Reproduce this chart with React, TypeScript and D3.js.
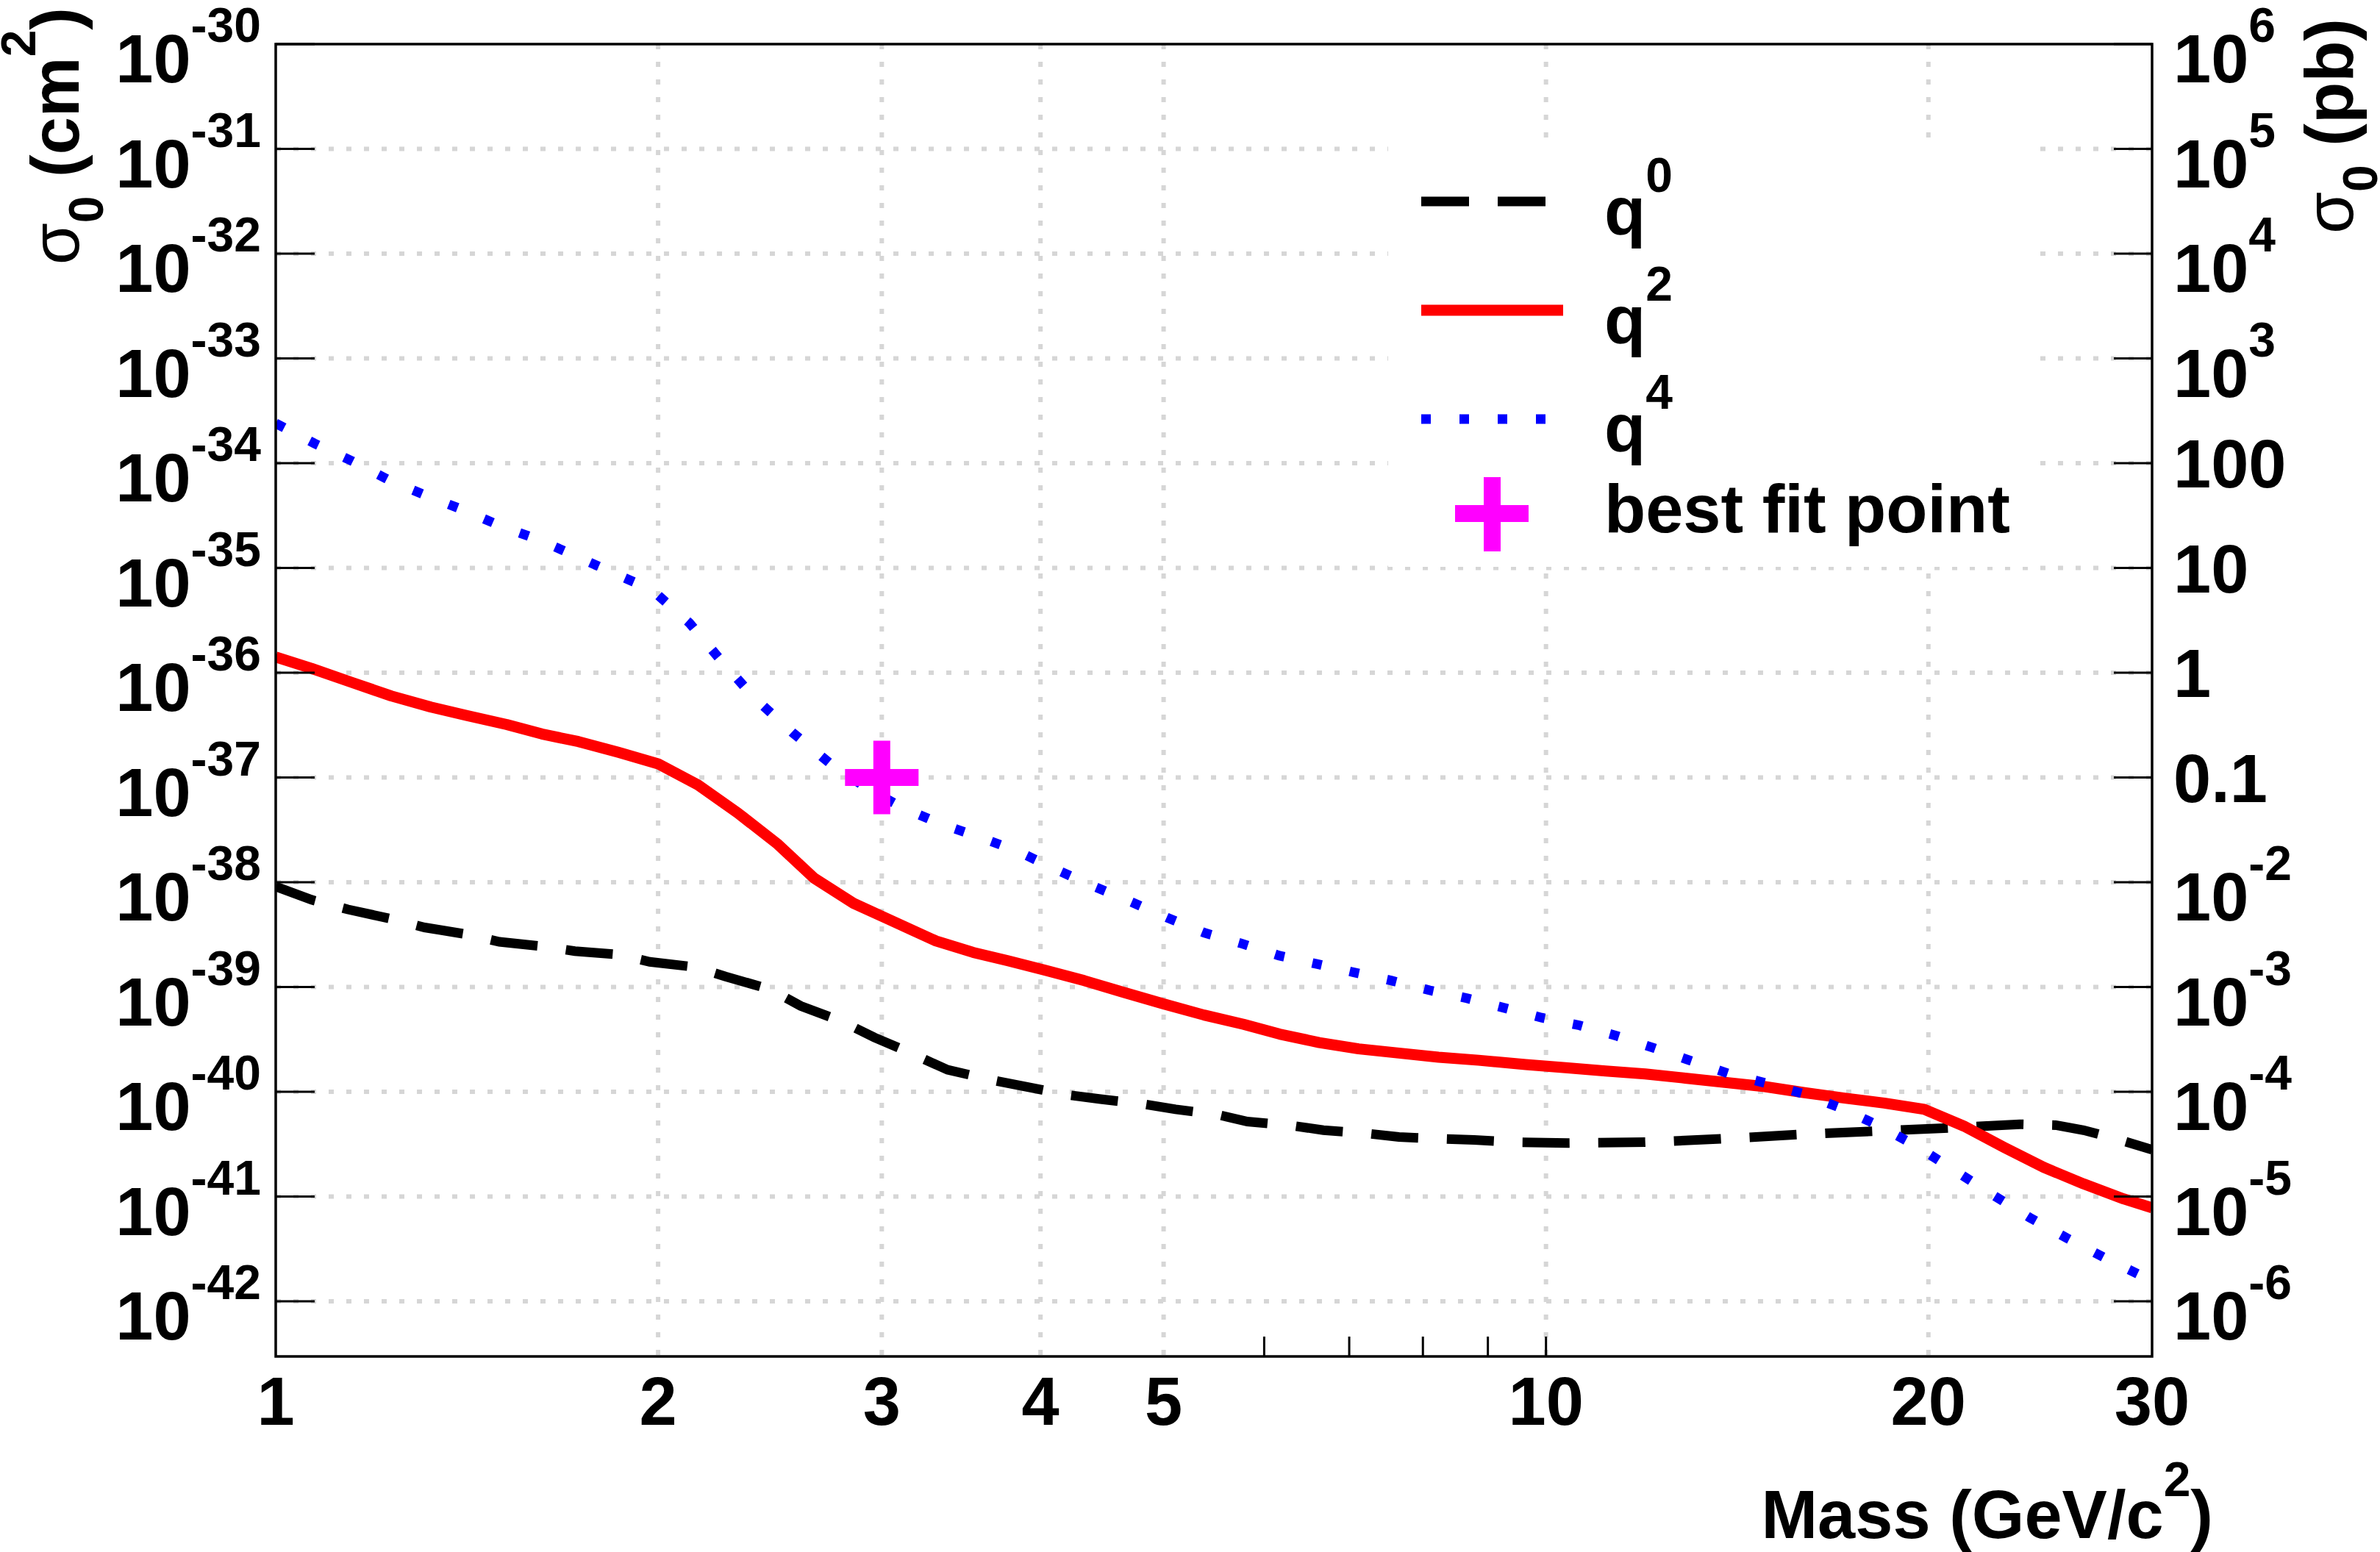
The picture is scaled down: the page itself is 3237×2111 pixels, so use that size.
import * as d3 from 'd3'

const W = 3237
const H = 2111

// upper limits, sigma_0 in cm^2 versus mass in GeV/c^2
const q0Limit: [number, number][] = [
  [1.0, 9.1e-39], [1.067, 6.8e-39], [1.14, 5.5e-39], [1.23, 4.5e-39], [1.31, 3.7e-39],
  [1.41, 3.2e-39], [1.5, 2.7e-39], [1.62, 2.45e-39], [1.72, 2.2e-39], [1.86, 2.04e-39],
  [1.97, 1.74e-39], [2.14, 1.55e-39], [2.26, 1.26e-39], [2.45, 9.5e-40], [2.59, 6.6e-40],
  [2.79, 4.7e-40], [2.96, 3.3e-40], [3.1, 2.6e-40], [3.38, 1.62e-40], [3.67, 1.29e-40],
  [3.89, 1.12e-40], [4.21, 9.3e-41], [4.46, 8.5e-41], [4.83, 7.6e-41], [5.11, 6.8e-41],
  [5.53, 6.0e-41], [5.82, 5.2e-41], [6.35, 4.7e-41], [6.68, 4.3e-41], [7.23, 4.0e-41],
  [7.66, 3.7e-41], [8.29, 3.55e-41], [8.78, 3.47e-41], [9.51, 3.3e-41], [10.4, 3.24e-41],
  [11.97, 3.3e-41], [13.73, 3.55e-41], [15.75, 3.9e-41], [18.07, 4.2e-41], [20.58, 4.5e-41],
  [23.6, 4.9e-41], [25.2, 4.8e-41], [26.5, 4.3e-41], [28.3, 3.47e-41], [30, 2.8e-41],
]

const q2Limit: [number, number][] = [
  [1.0, 1.41e-36], [1.067, 1.1e-36], [1.147, 8.1e-37], [1.233, 6.0e-37], [1.325, 4.7e-37],
  [1.414, 3.9e-37], [1.52, 3.2e-37], [1.62, 2.6e-37], [1.731, 2.2e-37], [1.861, 1.74e-37],
  [2.0, 1.35e-37], [2.15, 8.5e-38], [2.31, 4.6e-38], [2.485, 2.3e-38], [2.652, 1.1e-38],
  [2.85, 6.3e-39], [3.04, 4.4e-39], [3.31, 2.75e-39], [3.54, 2.14e-39], [3.77, 1.78e-39],
  [4.03, 1.45e-39], [4.33, 1.15e-39], [4.65, 8.9e-40], [5.0, 6.9e-40], [5.38, 5.4e-40],
  [5.78, 4.4e-40], [6.17, 3.55e-40], [6.63, 2.95e-40], [7.12, 2.57e-40], [7.66, 2.34e-40],
  [8.23, 2.14e-40], [8.85, 2.0e-40], [9.64, 1.82e-40], [10.36, 1.7e-40], [11.14, 1.58e-40],
  [11.97, 1.48e-40], [12.87, 1.35e-40], [13.83, 1.23e-40], [14.87, 1.12e-40], [15.98, 9.8e-41],
  [17.18, 8.7e-41], [18.46, 7.8e-41], [19.85, 6.8e-41], [21.33, 4.7e-41], [22.94, 2.95e-41],
  [24.65, 1.9e-41], [26.5, 1.32e-41], [28.49, 9.5e-42], [30, 7.8e-42],
]

const q4Limit: [number, number][] = [
  [1.0, 2.4e-34], [1.072, 1.55e-34], [1.148, 1.05e-34], [1.228, 6.9e-35], [1.314, 4.9e-35],
  [1.407, 3.55e-35], [1.505, 2.5e-35], [1.611, 1.86e-35], [1.725, 1.29e-35], [1.846, 8.9e-36],
  [1.977, 6.2e-36], [2.116, 3.0e-36], [2.24, 1.32e-36], [2.38, 5.8e-37], [2.55, 2.7e-37],
  [2.728, 1.38e-37], [2.92, 7.9e-38], [3.12, 5.1e-38], [3.34, 3.6e-38], [3.58, 2.7e-38],
  [3.83, 2.0e-38], [4.1, 1.35e-38], [4.39, 9.3e-39], [4.7, 6.6e-39], [5.03, 4.6e-39],
  [5.38, 3.3e-39], [5.76, 2.6e-39], [6.16, 2.0e-39], [6.6, 1.66e-39], [7.06, 1.38e-39],
  [7.56, 1.15e-39], [8.1, 9.3e-40], [8.67, 7.8e-40], [9.28, 6.3e-40], [9.92, 5.1e-40],
  [10.63, 4.3e-40], [11.38, 3.4e-40], [12.18, 2.6e-40], [13.04, 1.95e-40], [13.95, 1.48e-40],
  [14.93, 1.2e-40], [15.98, 9.5e-41], [17.11, 6.9e-41], [18.31, 4.7e-41], [19.6, 3.0e-41],
  [20.97, 1.78e-41], [22.44, 1.05e-41], [24.03, 6.3e-42], [25.72, 4.0e-42], [27.53, 2.6e-42],
  [29.47, 1.74e-42], [30, 1.6e-42],
]

const bestFit: [number, number] = [3, 1e-37]

const xTickLabels = [1, 2, 3, 4, 5, 10, 20, 30]
const xGridValues = [2, 3, 4, 5, 10, 20]
const xSmallTicks = [6, 7, 8, 9, 10]
const leftExponents = [-30, -31, -32, -33, -34, -35, -36, -37, -38, -39, -40, -41, -42]
// right axis in pb (1 pb = 1e-36 cm^2)
const rightTicks: { exp: number; base: string; sup?: string }[] = [
  { exp: 6, base: '10', sup: '6' },
  { exp: 5, base: '10', sup: '5' },
  { exp: 4, base: '10', sup: '4' },
  { exp: 3, base: '10', sup: '3' },
  { exp: 2, base: '100' },
  { exp: 1, base: '10' },
  { exp: 0, base: '1' },
  { exp: -1, base: '0.1' },
  { exp: -2, base: '10', sup: '-2' },
  { exp: -3, base: '10', sup: '-3' },
  { exp: -4, base: '10', sup: '-4' },
  { exp: -5, base: '10', sup: '-5' },
  { exp: -6, base: '10', sup: '-6' },
]

const legendItems = [
  { key: 'q0', sup: '0', color: '#000000', width: 13, dash: '65 39' },
  { key: 'q2', sup: '2', color: '#ff0000', width: 15, dash: undefined },
  { key: 'q4', sup: '4', color: '#0000ff', width: 13, dash: '13 39' },
]

const FONT = "'Liberation Sans', Arial, Helvetica, sans-serif"

export default function App() {
  const left = 375
  const right = 2927
  const top = 60
  const bottom = 1845

  const x = d3.scaleLog().domain([1, 30]).range([left, right])
  const y = d3
    .scaleLog()
    .domain([Math.pow(10, -30 - (bottom - top) / 142.5), 1e-30])
    .range([bottom, top])

  const line = d3
    .line<[number, number]>()
    .x(d => x(d[0]))
    .y(d => y(d[1]))

  const bx = x(bestFit[0])
  const by = y(bestFit[1])

  const legendRows = [274, 422, 570]
  const legendText = [319, 467, 614]

  return (
    <svg
      width={W}
      height={H}
      style={{ position: 'absolute', left: 0, top: 0, background: '#fff' }}
      fontFamily={FONT}
      fontWeight="bold"
    >
      <rect x={0} y={0} width={W} height={H} fill="#fff" />
      <defs>
        <clipPath id="plot">
          <rect x={left} y={top} width={right - left} height={bottom - top} />
        </clipPath>
      </defs>

      {/* grid */}
      <g stroke="#d6d6d6" strokeWidth={6} strokeDasharray="7 17">
        {leftExponents.slice(1).map(e => (
          <line key={e} x1={left} x2={right} y1={y(Math.pow(10, e))} y2={y(Math.pow(10, e))} />
        ))}
        {xGridValues.map(v => (
          <line key={v} x1={x(v)} x2={x(v)} y1={top} y2={bottom} />
        ))}
      </g>

      {/* legend box */}
      <rect x={1888} y={190} width={885} height={581} fill="#fff" />

      {/* curves */}
      <g clipPath="url(#plot)" fill="none">
        <path d={line(q0Limit)!} stroke="#000" strokeWidth={13} strokeDasharray="64 39" strokeDashoffset={7} />
        <path d={line(q2Limit)!} stroke="#ff0000" strokeWidth={15} strokeLinejoin="round" />
        <path d={line(q4Limit)!} stroke="#0000ff" strokeWidth={13} strokeDasharray="13 39" />
      </g>

      {/* best fit point */}
      <g fill="#ff00ff">
        <rect x={bx - 50} y={by - 11.5} width={100} height={23} />
        <rect x={bx - 11.5} y={by - 50} width={23} height={100} />
      </g>

      {/* frame and ticks */}
      <rect x={left} y={top} width={right - left} height={bottom - top} fill="none" stroke="#000" strokeWidth={3.5} />
      <g stroke="#000" strokeWidth={3}>
        {leftExponents.map(e => (
          <line key={e} x1={left} x2={left + 53} y1={y(Math.pow(10, e))} y2={y(Math.pow(10, e))} />
        ))}
        {leftExponents.map(e => (
          <line key={'r' + e} x1={right - 52} x2={right} y1={y(Math.pow(10, e))} y2={y(Math.pow(10, e))} />
        ))}
        {xSmallTicks.map(v => (
          <line key={v} x1={x(v)} x2={x(v)} y1={bottom} y2={bottom - 27} />
        ))}
      </g>

      {/* left tick labels */}
      <g fontSize={92} textAnchor="end">
        {leftExponents.map(e => (
          <text key={e} x={355} y={y(Math.pow(10, e)) + 52}>
            10
            <tspan dy={-55} fontSize={66}>
              {String(e)}
            </tspan>
          </text>
        ))}
      </g>

      {/* right tick labels */}
      <g fontSize={92}>
        {rightTicks.map(t => {
          const ty = y(Math.pow(10, t.exp - 36))
          return t.sup ? (
            <text key={t.exp} x={2956} y={ty + 52}>
              {t.base}
              <tspan dy={-55} fontSize={66}>
                {t.sup}
              </tspan>
            </text>
          ) : (
            <text key={t.exp} x={2956} y={ty + 33}>
              {t.base}
            </text>
          )
        })}
      </g>

      {/* x tick labels */}
      <g fontSize={92} textAnchor="middle">
        {xTickLabels.map(v => (
          <text key={v} x={x(v)} y={1938}>
            {v}
          </text>
        ))}
      </g>

      {/* axis titles */}
      <text x={3010} y={2092} fontSize={92} textAnchor="end">
        Mass (GeV/c
        <tspan dy={-57} fontSize={66}>
          2
        </tspan>
        <tspan dy={57}>)</tspan>
      </text>
      <text transform="translate(107,10) rotate(-90)" fontSize={92} textAnchor="end">
        <tspan fontWeight="normal">σ</tspan>
        <tspan dy={33} fontSize={66}>
          0
        </tspan>
        <tspan dy={-33}> (cm</tspan>
        <tspan dy={-59} fontSize={66}>
          2
        </tspan>
        <tspan dy={59}>)</tspan>
      </text>
      <text transform="translate(3200,25) rotate(-90)" fontSize={92} textAnchor="end">
        <tspan fontWeight="normal">σ</tspan>
        <tspan dy={33} fontSize={66}>
          0
        </tspan>
        <tspan dy={-33}> (pb)</tspan>
      </text>

      {/* legend */}
      {legendItems.map((it, i) => (
        <g key={it.key}>
          <line
            x1={1933}
            x2={2126}
            y1={legendRows[i]}
            y2={legendRows[i]}
            stroke={it.color}
            strokeWidth={it.width}
            strokeDasharray={it.dash}
          />
          <text x={2182} y={legendText[i]} fontSize={92}>
            q
            <tspan dy={-58} fontSize={66}>
              {it.sup}
            </tspan>
          </text>
        </g>
      ))}
      <g fill="#ff00ff">
        <rect x={1979} y={687} width={100} height={23} />
        <rect x={2018} y={649} width={23} height={101} />
      </g>
      <text x={2182} y={724} fontSize={92}>
        best fit point
      </text>
    </svg>
  )
}
